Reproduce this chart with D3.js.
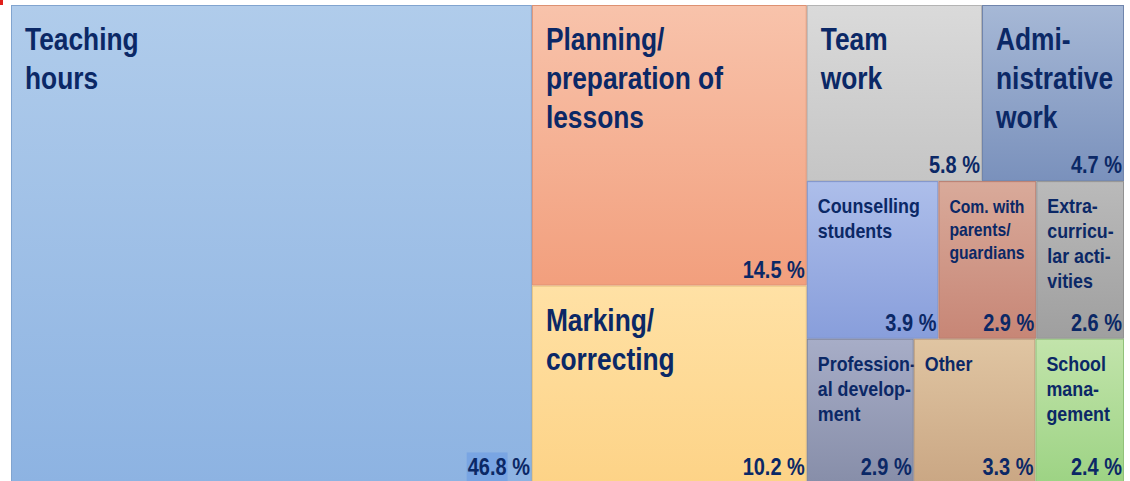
<!DOCTYPE html>
<html>
<head>
<meta charset="utf-8">
<script src="https://cdn.jsdelivr.net/npm/d3@7.9.0/dist/d3.min.js"></script>
<style>
  body { margin: 0; background: #fff; }
  svg { display: block; font-family: "Liberation Sans", Arial, sans-serif; font-weight: bold; }
</style>
</head>
<body>
<svg id="chart" width="1130" height="481"></svg>
<script>
// ---------- Data ----------
const categories = [
  'Teaching hours', 'Planning/preparation of lessons', 'Marking/correcting',
  'Team work', 'Administrative work',
  'Counselling students', 'Com. with parents/guardians', 'Extra-curricular activities',
  'Professional development', 'Other', 'School management'
];
const shares = [46.8, 14.5, 10.2, 5.8, 4.7, 3.9, 2.9, 2.6, 2.9, 3.3, 2.4];
// where each tile sits in the nested treemap (column / row)
const groupPath = ['', 'col2', 'col2', 'col3/row1', 'col3/row1',
  'col3/row2', 'col3/row2', 'col3/row2', 'col3/row3', 'col3/row3', 'col3/row3'];
// hyphenated label lines as printed in the tiles
const labelLines = [
  ['Teaching', 'hours'],
  ['Planning/', 'preparation of', 'lessons'],
  ['Marking/', 'correcting'],
  ['Team', 'work'],
  ['Admi-', 'nistrative', 'work'],
  ['Counselling', 'students'],
  ['Com. with', 'parents/', 'guardians'],
  ['Extra-', 'curricu-', 'lar acti-', 'vities'],
  ['Profession-', 'al develop-', 'ment'],
  ['Other'],
  ['School', 'mana-', 'gement']
];

// ---------- Styles ----------
const tileColors = [
  ['#b0cceb', '#8db3e2'], ['#f8c3ab', '#f29f7d'], ['#ffe1a5', '#fdd387'],
  ['#dadada', '#c5c5c5'], ['#a6b8d6', '#7a91bc'],
  ['#adbeea', '#889edb'], ['#d9aa9a', '#c78676'], ['#bababa', '#9f9f9f'],
  ['#a7adc7', '#878ea9'], ['#e0c5a2', '#caa784'], ['#c2e4ab', '#9dd384']
];
const textColor = '#0b2866';
const squeeze = 0.85;

const box = { left: 11, top: 5, right: 1124, bottom: 483 };

// ---------- Build hierarchy ----------
const rootData = { name: 'root', children: [] };
categories.forEach((name, i) => {
  let node = rootData;
  for (const key of groupPath[i].split('/').filter(Boolean)) {
    let child = node.children.find((n) => n.name === key);
    if (!child) { child = { name: key, children: [] }; node.children.push(child); }
    node = child;
  }
  node.children.push({ name, value: shares[i], idx: i });
});

const root = d3.hierarchy(rootData).sum((d) => d.value || 0);
d3.treemap()
  .tile(d3.treemapSliceDice)
  .size([box.right - box.left, box.bottom - box.top])
  .round(false)(root);

const svg = d3.select('#chart');

// small red corner mark from the source
svg.append('rect').attr('x', 0).attr('y', 0).attr('width', 3).attr('height', 5).attr('fill', '#e0201b');

const defs = svg.append('defs');
tileColors.forEach(([c0, c1], i) => {
  const g = defs.append('linearGradient').attr('id', `grad${i}`)
    .attr('x1', 0).attr('y1', 0).attr('x2', 0).attr('y2', 1);
  g.append('stop').attr('offset', '0%').attr('stop-color', c0);
  g.append('stop').attr('offset', '100%').attr('stop-color', c1);
});

const chart = svg.append('g').attr('transform', `translate(${box.left},${box.top})`);
const leaves = root.leaves();

const tiles = chart.selectAll('g.tile')
  .data(leaves)
  .join('g')
  .attr('class', 'tile')
  .attr('transform', (d) => `translate(${d.x0},${d.y0})`);

tiles.append('rect')
  .attr('x', 0.5).attr('y', 0.5)
  .attr('width', (d) => d.x1 - d.x0 - 1)
  .attr('height', (d) => d.y1 - d.y0 - 1)
  .attr('fill', (d) => `url(#grad${d.data.idx})`)
  .attr('stroke', (d) => d3.color(tileColors[d.data.idx][1]).darker(0.25))
  .attr('stroke-width', 1);

// labels
tiles.each(function (d) {
  const g = d3.select(this);
  const i = d.data.idx;
  const big = i < 5;
  const size = big ? 31 : i === 6 ? 18.5 : 21;
  const lh = big ? 39 : i === 6 ? 23 : 25;
  const first = big ? 45 : 32;
  labelLines[i].forEach((line, k) => {
    g.append('text')
      .attr('transform', `translate(${big ? 14 : 11},${first + k * lh}) scale(${squeeze},1)`)
      .attr('font-size', size)
      .attr('fill', textColor)
      .text(line);
  });

  const w = d.x1 - d.x0, h = d.y1 - d.y0;
  const pct = g.append('text')
    .attr('transform', `translate(${w - 2},${h - 8}) scale(${squeeze},1)`)
    .attr('text-anchor', 'end')
    .attr('font-size', 23.5)
    .attr('fill', textColor);
  const num = pct.append('tspan').text(d3.format('.1f')(shares[i]));
  pct.append('tspan').text(' %');

  // highlighted number box on the largest tile
  if (i === 0) {
    const ext = num.node().getExtentOfChar(0);
    const len = num.node().getComputedTextLength();
    const n = pct.node().getComputedTextLength();
    const x0 = w - 2 - n * squeeze;
    g.insert('rect', 'text')
      .attr('x', x0 - 1)
      .attr('y', h - 8 + ext.y - 1)
      .attr('width', len * squeeze + 2)
      .attr('height', 50)
      .attr('fill', '#79a5e3');
  }
});
</script>
</body>
</html>
